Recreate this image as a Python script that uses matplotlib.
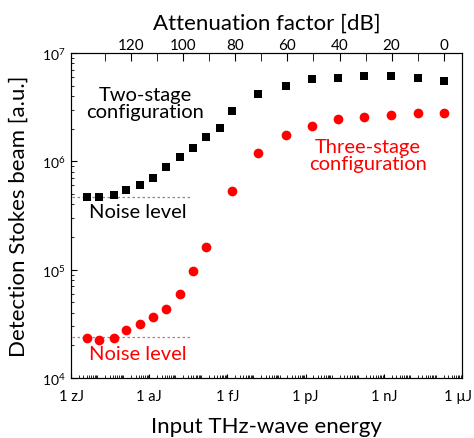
import numpy as np
import matplotlib
matplotlib.use('Agg')
import matplotlib.pyplot as plt
import matplotlib.transforms as mtransforms
from matplotlib.ticker import LogLocator, NullFormatter

plt.rcParams['font.family'] = ['Lato', 'DejaVu Sans']
plt.rcParams['mathtext.fontset'] = 'custom'
plt.rcParams['mathtext.rm'] = 'Lato'

# energies (J)
energy = [4.2e-21, 1.2e-20, 4.5e-20, 1.3e-19, 4.4e-19, 1.4e-18, 4.3e-18,
          1.5e-17, 4.9e-17, 1.5e-16, 5.2e-16, 1.54e-15, 1.53e-14, 1.77e-13,
          1.71e-12, 1.71e-11, 1.74e-10, 1.84e-9, 2.0e-8, 2.04e-7]
two_stage = [4.72e5, 4.72e5, 4.92e5, 5.43e5, 6.08e5, 6.97e5, 8.92e5,
             1.09e6, 1.32e6, 1.69e6, 2.04e6, 2.89e6, 4.17e6, 4.96e6,
             5.71e6, 5.87e6, 6.17e6, 6.09e6, 5.92e6, 5.52e6]
three_stage = [2.36e4, 2.23e4, 2.36e4, 2.76e4, 3.13e4, 3.68e4, 4.34e4,
               5.97e4, 9.67e4, 1.63e5, None, 5.32e5, 1.19e6, 1.75e6,
               2.13e6, 2.46e6, 2.57e6, 2.66e6, 2.78e6, 2.80e6]

noise_x = [1.1e-21, 4.4e-17]
noise_two = 4.69e5
noise_three = 2.39e4

e_ref = 2.0e-7  # 0 dB
x_ticks = [1e-21, 1e-18, 1e-15, 1e-12, 1e-9, 1e-6]
x_labels = ['1 zJ', '1 aJ', '1 fJ', '1 pJ', '1 nJ', '1 µJ']
db_labels = [0, 20, 40, 60, 80, 100, 120]
db_minor = [10, 30, 50, 70, 90, 110, 130]

fig = plt.figure(figsize=(4.74, 4.39), dpi=100)
ax = fig.add_axes([0.1498, 0.1367, 0.8249, 0.7403])

e3 = [e for e, v in zip(energy, three_stage) if v is not None]
v3 = [v for v in three_stage if v is not None]

ax.plot(noise_x, [noise_two] * 2, ls=(0, (2, 2)), color='#8a8a8a', lw=0.9)
ax.plot(noise_x, [noise_three] * 2, ls=(0, (2, 2)), color='#d87070', lw=0.9)
ax.plot(energy, two_stage, 's', color='black', ms=5.2, mew=0)
ax.plot(e3, v3, 'o', color='#ff0000', ms=7, mew=0)

ax.set_xscale('log')
ax.set_yscale('log')
ax.set_xlim(1e-21, 1e-6)
ax.set_ylim(1e4, 1e7)

ax.set_xticks(x_ticks, x_labels)
ax.xaxis.set_minor_locator(LogLocator(base=10, subs=np.arange(1, 10), numticks=100))
ax.xaxis.set_minor_formatter(NullFormatter())

ax.set_yticks([1e4, 1e5, 1e6, 1e7],
              [r'$\mathregular{10^{4}}$', r'$\mathregular{10^{5}}$',
               r'$\mathregular{10^{6}}$', r'$\mathregular{10^{7}}$'])
ax.yaxis.set_minor_locator(LogLocator(base=10, subs=np.arange(2, 10), numticks=100))
ax.yaxis.set_minor_formatter(NullFormatter())

ax.tick_params(axis='x', which='major', direction='in', length=3, labelsize=10.5, pad=8)
ax.tick_params(axis='x', which='minor', direction='in', length=2)
ax.tick_params(axis='y', which='major', direction='in', length=4, labelsize=10, pad=4)
ax.tick_params(axis='y', which='minor', direction='in', length=2.5)

# last bottom label sits a bit to the left so it stays inside the figure
last = ax.get_xticklabels()[-1]
last.set_transform(last.get_transform() + mtransforms.ScaledTranslation(-4 / 100, 0, fig.dpi_scale_trans))

ax.set_xlabel('Input THz-wave energy', fontsize=16, labelpad=9.5)
ax.set_ylabel('Detection Stokes beam [a.u.]', fontsize=16, labelpad=9.5)

top = ax.twiny()
top.set_xlim(10 * np.log10(e_ref / 1e-21), 10 * np.log10(e_ref / 1e-6))
top.set_xticks(db_labels, [str(d) for d in db_labels])
top.set_xticks(db_minor, minor=True)
top.tick_params(which='both', direction='in', length=6, labelsize=11, pad=1)
top.set_xlabel('Attenuation factor [dB]', fontsize=16, labelpad=6.5)

ax.text(0.189, 0.846, 'Two-stage\nconfiguration', transform=ax.transAxes,
        ha='center', va='center', fontsize=14.5, linespacing=1.0)
ax.text(0.171, 0.511, 'Noise level', transform=ax.transAxes,
        ha='center', va='center', fontsize=14.5)
ax.text(0.171, 0.074, 'Noise level', transform=ax.transAxes,
        ha='center', va='center', fontsize=14.5, color='#ff0000')
ax.text(0.760, 0.686, 'Three-stage\nconfiguration', transform=ax.transAxes,
        ha='center', va='center', fontsize=14.5, linespacing=1.0, color='#ff0000')

fig.savefig('out.png', dpi=100)
